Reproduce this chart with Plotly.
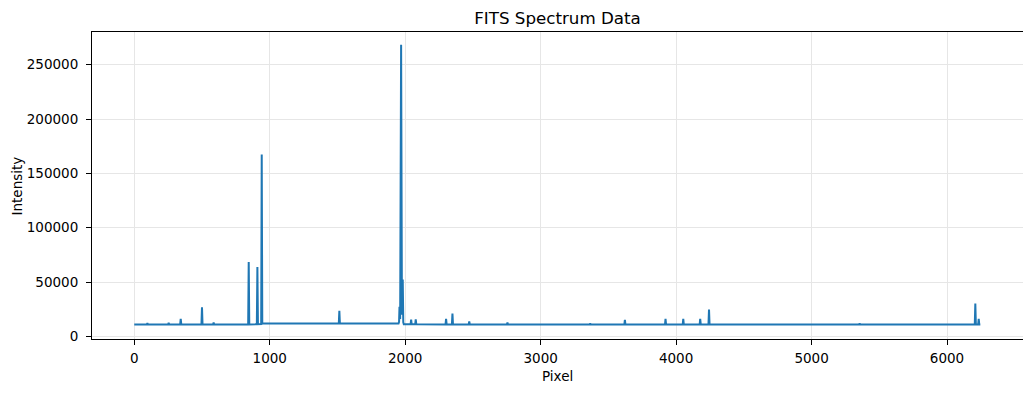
import plotly.graph_objects as go

# Spectrum polyline vertices (pixel, intensity)
pixel = [0, 93, 97, 101, 250, 254, 258, 339, 343, 347, 496, 500, 504, 582, 586, 590,
         841, 845, 849, 905, 909, 913, 937, 941, 945, 950,
         1510, 1514, 1518, 1801, 1805, 1809,
         1951, 1955, 1958, 1963, 1970, 1976, 1982, 1986, 1990,
         2040, 2044, 2048, 2074, 2078, 2082, 2298, 2302, 2306, 2345, 2349, 2353,
         2469, 2473, 2477, 2751, 2755, 2759, 3362, 3366, 3370, 3618, 3622, 3626,
         3918, 3922, 3926, 4049, 4053, 4057, 4174, 4178, 4182, 4239, 4243, 4247,
         5351, 5355, 5359, 6205, 6209, 6213, 6230, 6234, 6238, 6246]
intensity = [11000, 11000, 12300, 11000, 11000, 12500, 11000, 11100, 16300, 11100,
             11100, 26900, 11100, 11100, 12800, 11100,
             11100, 68600, 11100, 11300, 64000, 11300, 11500, 167300, 11800, 11900,
             11900, 23600, 11900, 11900, 12300, 11900,
             11900, 13500, 27300, 16000, 268300, 20000, 52400, 13000, 11200,
             11200, 15600, 11200, 11200, 15800, 11200, 11100, 16200, 11100, 11100, 21100, 11100,
             11100, 13800, 11100, 11000, 12800, 11000, 11000, 11900, 11000, 11000, 15300, 11000,
             11000, 16200, 11000, 11000, 16200, 11000, 11000, 16200, 11000, 11000, 24800, 11000,
             11000, 12000, 11000, 11000, 30300, 11000, 11000, 16200, 11000, 11000]

x_ticks = [0, 1000, 2000, 3000, 4000, 5000, 6000]
y_ticks = [0, 50000, 100000, 150000, 200000, 250000]

fig = go.Figure()
fig.add_trace(go.Scatter(x=pixel, y=intensity, mode="lines",
                         line=dict(color="#1f77b4", width=2), showlegend=False))

axis_common = dict(showline=True, linecolor="black", linewidth=1, mirror=True,
                   ticks="outside", ticklen=5, tickwidth=1, tickcolor="black",
                   showgrid=True, gridcolor="#e6e6e6", gridwidth=1, zeroline=False,
                   automargin=False,
                   tickfont=dict(family="DejaVu Sans", size=13.5, color="black"))

# the page adds an 8px body margin, so the figure is sized/offset to compensate
fig.update_layout(
    width=1016, height=378,
    margin=dict(l=84, r=1, t=24, b=47),
    paper_bgcolor="white", plot_bgcolor="white",
    font=dict(family="DejaVu Sans", color="black"),
    title=dict(text="FITS Spectrum Data", x=0.5, xref="paper", xanchor="center",
               y=0.9735, yref="container", yanchor="middle", automargin=False,
               font=dict(family="DejaVu Sans", size=16.7, color="black")),
    xaxis=dict(range=[-312, 6561], tickvals=x_ticks, tickformat="d",
               ticklabelstandoff=2, **axis_common),
    yaxis=dict(range=[-2300, 280000], tickvals=y_ticks, tickformat="d",
               ticklabelstandoff=5, **axis_common),
    annotations=[
        dict(text="Pixel", xref="paper", yref="paper", x=0.5, y=-0.1205,
             xanchor="center", yanchor="middle", showarrow=False,
             font=dict(family="DejaVu Sans", size=13.5, color="black")),
        dict(text="Intensity", xref="paper", yref="paper", x=-0.0806, y=0.5,
             xanchor="center", yanchor="middle", textangle=-90, showarrow=False,
             font=dict(family="DejaVu Sans", size=13.5, color="black")),
    ],
)

fig.write_html("out.html")
